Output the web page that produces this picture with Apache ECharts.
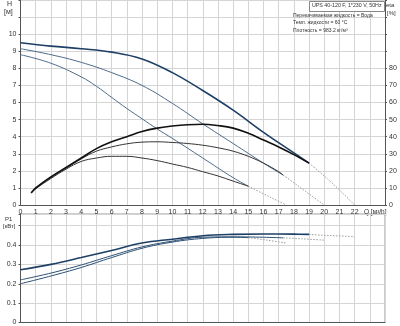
<!DOCTYPE html>
<html><head><meta charset="utf-8">
<script src="https://cdn.jsdelivr.net/npm/echarts@6/dist/echarts.min.js"></script>
<style>html,body{margin:0;padding:0;background:#fff}#c{width:400px;height:326px}</style>
</head><body><div id="c"></div>
<script>
// ---- data ----
const xTicks = [0,1,2,3,4,5,6,7,8,9,10,11,12,13,14,15,16,17,18,19,20,21,22];
// Head curves H [m] vs Q [m3/h], speeds 3,2,1 (solid) and dotted extensions
const q3 = [0,2,4,6,8,10,12,14,16,18,19];
const h3 = [9.5,9.3,9.15,8.95,8.55,7.75,6.7,5.55,4.25,3.05,2.45];
const q3d = [19,20,21,22];
const h3d = [2.45,1.7,0.88,0];
const q2 = [0,2,4,6,8,10,12,14,16,17.3];
const h2 = [9.15,8.8,8.35,7.75,7.0,5.95,4.75,3.6,2.45,1.75];
const q2d = [17.3,18,19,20];
const h2d = [1.75,1.3,0.65,0];
const q1 = [0,2,4,5,6,7,8,9,10,12,14,15];
const h1 = [8.8,8.3,7.5,6.95,6.3,5.65,5.05,4.45,3.9,2.75,1.6,1.1];
const q1d = [15,16,17,17.5];
const h1d = [1.1,0.65,0.22,0];
// Efficiency curves eta [%]
const qe3 = [0.7,1,2,3,4,5,6,7,8,9,10,11,12,13,14,15,16,17,18,19];
const e3 = [7,10,16.5,22,27.5,33,37,40,43,45,46.2,47,47.3,46.5,45,42,38,34,29.5,24.5];
const qe2 = [0.7,1,2,3,4,5,6,7,8,9,10,11,12,13,14,15,16,17,17.3];
const e2 = [7,9.5,16,21.5,27,31.5,34,35.8,36.8,37,36.6,36,35,33.5,31.5,28.5,24.5,19.5,17.5];
const qe1 = [0.7,1,2,3,4,5,6,7,8,9,10,11,12,13,14,15];
const e1 = [7,9.5,15.5,21,25.5,27.5,28.5,28.5,27.5,26,24,22,19.5,17,14,11];
// Power P1 [kW]
const qp3 = [0,2,4,6,8,10,12,14,16,18,19];
const p3 = [0.272,0.3,0.335,0.372,0.41,0.43,0.448,0.455,0.457,0.456,0.455];
const qp3d = [19,20,21,22];
const p3d = [0.455,0.45,0.447,0.443];
const qp2 = [0,2,4,6,8,10,12,14,16,17.3];
const p2 = [0.22,0.255,0.297,0.345,0.39,0.42,0.44,0.442,0.44,0.437];
const qp2d = [17.3,18.5,20];
const p2d = [0.437,0.432,0.425];
const qp1 = [0,2,4,6,8,10,12,14,15];
const p1 = [0.2,0.24,0.284,0.335,0.383,0.415,0.434,0.44,0.438];
const qp1d = [15,16.25,17.5];
const p1d = [0.438,0.425,0.41];
const hTicks = [0,1,2,3,4,5,6,7,8,9,10];
const etaTicks = [0,10,20,30,40,50,60,70,80];
const pTicks = [0,0.1,0.2,0.3,0.4];

const zip = (a,b)=>a.map((v,i)=>[v,b[i]]);
const F = 'Liberation Sans, Arial, sans-serif';
const lab = {fontSize:7, color:'#333', fontFamily:F};
const grid = {lineStyle:{color:'#d4d4d4', width:1}};

function line(x,y,xi,yi,color,w,dotted,z){
  return {type:'line', xAxisIndex:xi, yAxisIndex:yi, data:zip(x,y), smooth:0.4, showSymbol:false,
    lineStyle:{color:color, width:w, type: dotted?[1.5,1.5]:'solid'}, z:z||3, silent:true, animation:false};
}

const chart = echarts.init(document.getElementById('c'), null, {renderer:'canvas'});
chart.setOption({
  animation:false,
  grid:[
    {left:20.5, right:15, top:0, height:205, show:true, borderColor:'#888', borderWidth:0},
    {left:20.5, right:15, top:214, height:109, show:true, borderColor:'#999', borderWidth:1}
  ],
  xAxis:[
    {gridIndex:0, type:'value', min:0, max:24, interval:1,
     axisLine:{lineStyle:{color:'#555'}}, axisTick:{show:false},
     axisLabel:Object.assign({margin:4, formatter:v=>xTicks.includes(v)?String(v):''},lab),
     splitLine:grid},
    {gridIndex:1, type:'value', min:0, max:24, interval:1,
     axisLine:{lineStyle:{color:'#555'}}, axisTick:{show:false}, axisLabel:{show:false},
     splitLine:grid}
  ],
  yAxis:[
    {gridIndex:0, type:'value', min:0, max:12, interval:1,
     axisLine:{show:true, lineStyle:{color:'#555'}}, axisTick:{show:true, length:2, lineStyle:{color:'#555'}},
     axisLabel:Object.assign({margin:4, formatter:v=>hTicks.includes(v)?String(v):''},lab),
     splitLine:grid},
    {gridIndex:0, type:'value', position:'right', min:0, max:120, interval:10,
     axisLine:{show:true, lineStyle:{color:'#555'}}, axisTick:{show:true, length:2, lineStyle:{color:'#555'}},
     axisLabel:Object.assign({margin:4, formatter:v=>etaTicks.includes(v)?String(v):''},lab),
     splitLine:{show:false}},
    {gridIndex:1, type:'value', min:0, max:0.56, interval:0.1,
     axisLine:{show:true, lineStyle:{color:'#555'}}, axisTick:{show:true, length:2, lineStyle:{color:'#555'}},
     axisLabel:Object.assign({margin:4, formatter:v=>pTicks.some(t=>Math.abs(t-v)<1e-6)?String(Math.round(v*10)/10):''},lab),
     splitLine:grid}
  ],
  series:[
    line(q3d,h3d,0,0,'#9a9a9a',1,true,2),
    line(q2d,h2d,0,0,'#9a9a9a',1,true,2),
    line(q1d,h1d,0,0,'#9a9a9a',1,true,2),
    line(q1,h1,0,0,'#4d6b8a',1,false,3),
    line(q2,h2,0,0,'#4d6b8a',1,false,3),
    line(q3,h3,0,0,'#1e3f66',1.6,false,4),
    line(qe1,e1,0,1,'#333',1,false,3),
    line(qe2,e2,0,1,'#333',1,false,3),
    line(qe3,e3,0,1,'#111',1.6,false,4),
    line(qp3d,p3d,1,2,'#9a9a9a',1,true,2),
    line(qp2d,p2d,1,2,'#9a9a9a',1,true,2),
    line(qp1d,p1d,1,2,'#9a9a9a',1,true,2),
    line(qp1,p1,1,2,'#2b4f73',1,false,3),
    line(qp2,p2,1,2,'#2b4f73',1,false,3),
    line(qp3,p3,1,2,'#1e3f66',1.6,false,4)
  ],
  graphic:[
    {type:'text', left:7, top:1, style:{text:'H', font:'7px '+F, fill:'#333'}},
    {type:'text', left:4, top:9, style:{text:'[м]', font:'7px '+F, fill:'#333'}},
    {type:'text', left:386, top:2, style:{text:'eta', font:'6px '+F, fill:'#333'}},
    {type:'text', left:387, top:10, style:{text:'[%]', font:'6px '+F, fill:'#333'}},
    {type:'text', left:5, top:216, style:{text:'P1', font:'6px '+F, fill:'#333'}},
    {type:'text', left:3, top:223, style:{text:'[кВт]', font:'6px '+F, fill:'#333'}},
    {type:'text', left:364, top:209, style:{text:'Q [м³/h]', font:'6.5px '+F, fill:'#333'}},
    {type:'rect', left:309, top:1, shape:{width:75, height:10}, style:{fill:'#fff', stroke:'#888', lineWidth:1}, z:10},
    {type:'text', left:312, top:3, style:{text:'UPS 40-120 F, 1*230 V, 50Hz', font:'5.3px '+F, fill:'#333'}, z:11},
    {type:'text', left:293, top:13, style:{text:'Перекачиваемая жидкость = Вода', font:'5px '+F, fill:'#333'}, z:11},
    {type:'text', left:293, top:20.5, style:{text:'Темп. жидкости = 60 °C', font:'5px '+F, fill:'#333'}, z:11},
    {type:'text', left:293, top:28, style:{text:'Плотность = 983.2 кг/м³', font:'5px '+F, fill:'#333'}, z:11}
  ]
});
</script></body></html>
